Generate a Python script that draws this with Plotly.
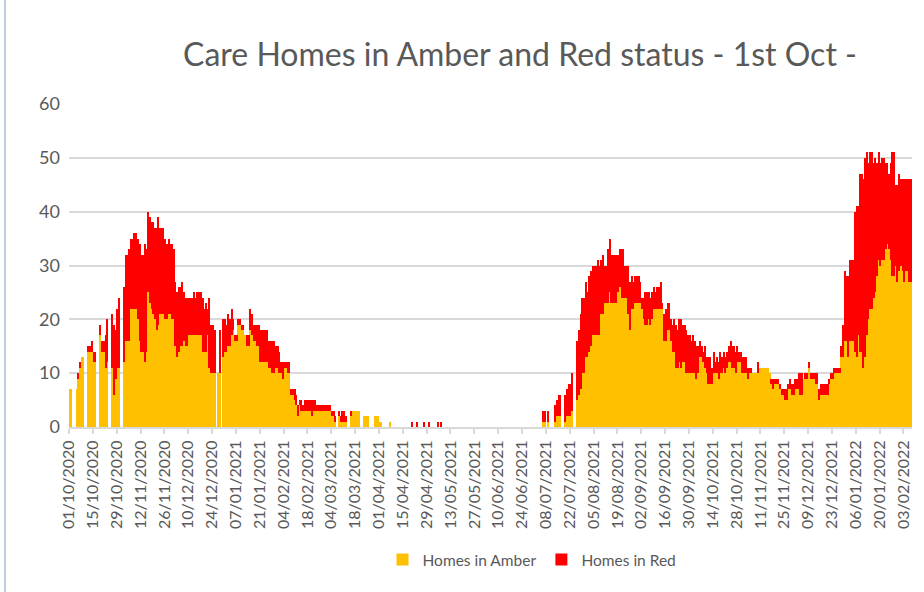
import pandas as pd
import plotly.graph_objects as go

start_date = "2020-10-01"

# Daily values, 01/10/2020 onward (0 = no bar that day)
amber = [
    7, 7, 0, 0, 7, 9, 11, 13, 13, 0,
    0, 14, 14, 14, 12, 12, 0, 0, 17, 14,
    14, 11, 12, 0, 0, 11, 6, 9, 11, 11,
    0, 0, 12, 16, 16, 16, 22, 22, 22, 22,
    20, 16, 14, 14, 12, 14, 25, 23, 22, 21,
    20, 18, 19, 21, 21, 21, 20, 20, 21, 21,
    20, 20, 15, 13, 14, 15, 15, 16, 15, 15,
    17, 17, 17, 17, 17, 17, 17, 17, 14, 14,
    14, 17, 11, 10, 10, 10, 0, 10, 10, 0,
    13, 14, 14, 15, 15, 17, 18, 16, 16, 19,
    19, 18, 18, 17, 15, 15, 18, 17, 16, 16,
    15, 15, 12, 12, 12, 12, 12, 11, 11, 10,
    10, 11, 11, 10, 10, 9, 11, 11, 10, 10,
    6, 6, 5, 4, 2, 4, 3, 3, 3, 3,
    3, 3, 2, 3, 3, 3, 3, 3, 3, 3,
    3, 3, 3, 3, 2, 2, 1, 0, 2, 1,
    1, 1, 1, 0, 0, 2, 3, 3, 3, 3,
    3, 0, 0, 2, 2, 2, 0, 0, 0, 2,
    2, 2, 1, 1, 0, 0, 0, 0, 1, 0,
    0, 0, 0, 0, 0, 0, 0, 0, 0, 0,
    0, 0, 0, 0, 0, 0, 0, 0, 0, 0,
    0, 0, 0, 0, 0, 0, 0, 0, 0, 0,
    0, 0, 0, 0, 0, 0, 0, 0, 0, 0,
    0, 0, 0, 0, 0, 0, 0, 0, 0, 0,
    0, 0, 0, 0, 0, 0, 0, 0, 0, 0,
    0, 0, 0, 0, 0, 0, 0, 0, 0, 0,
    0, 0, 0, 0, 0, 0, 0, 0, 0, 0,
    0, 0, 0, 0, 0, 0, 0, 0, 1, 1,
    0, 1, 0, 0, 0, 1, 2, 2, 2, 0,
    0, 1, 2, 2, 2, 3, 0, 0, 5, 6,
    7, 10, 10, 13, 13, 14, 15, 17, 17, 17,
    17, 17, 21, 21, 23, 23, 23, 25, 23, 23,
    23, 23, 25, 26, 24, 24, 24, 24, 21, 18,
    22, 22, 23, 23, 23, 23, 22, 20, 19, 19,
    20, 19, 20, 22, 22, 22, 22, 22, 22, 16,
    16, 18, 18, 16, 14, 14, 11, 11, 12, 11,
    12, 12, 10, 10, 10, 10, 10, 10, 9, 10,
    13, 13, 12, 11, 10, 8, 8, 8, 10, 10,
    10, 9, 10, 10, 11, 10, 11, 12, 12, 11,
    11, 10, 12, 12, 12, 10, 10, 10, 9, 10,
    10, 10, 10, 10, 10, 11, 11, 11, 11, 11,
    11, 10, 8, 7, 8, 8, 8, 7, 6, 6,
    5, 5, 7, 7, 6, 6, 7, 7, 7, 6,
    6, 9, 9, 9, 11, 9, 9, 9, 8, 8,
    5, 6, 6, 6, 6, 6, 8, 9, 9, 10,
    10, 10, 10, 13, 13, 16, 16, 13, 16, 16,
    16, 14, 13, 17, 14, 14, 11, 13, 17, 20,
    22, 22, 24, 25, 28, 31, 30, 31, 31, 33,
    34, 33, 31, 28, 28, 30, 27, 29, 30, 29,
    27, 29, 29, 27, 27,
]

red = [
    0, 0, 0, 0, 0, 1, 1, 0, 0, 0,
    0, 1, 1, 2, 2, 2, 0, 0, 2, 2,
    2, 6, 8, 0, 0, 10, 13, 9, 11, 13,
    0, 0, 14, 16, 16, 17, 13, 13, 14, 14,
    15, 18, 18, 18, 22, 19, 15, 16, 16, 17,
    17, 19, 20, 16, 16, 16, 15, 14, 14, 13,
    14, 13, 12, 12, 12, 11, 12, 9, 9, 9,
    7, 7, 7, 8, 7, 8, 8, 8, 10, 8,
    9, 5, 13, 9, 9, 8, 0, 0, 8, 0,
    7, 6, 5, 6, 5, 5, 2, 1, 1, 1,
    1, 1, 1, 0, 2, 2, 4, 4, 3, 3,
    4, 4, 6, 6, 6, 6, 6, 5, 5, 6,
    6, 4, 4, 4, 2, 3, 1, 1, 2, 2,
    1, 1, 2, 2, 2, 1, 2, 1, 2, 2,
    2, 2, 3, 2, 2, 1, 1, 1, 1, 1,
    1, 1, 1, 1, 1, 1, 1, 0, 1, 1,
    2, 2, 1, 0, 0, 1, 0, 0, 0, 0,
    0, 0, 0, 0, 0, 0, 0, 0, 0, 0,
    0, 0, 0, 0, 0, 0, 0, 0, 0, 0,
    0, 0, 0, 0, 0, 0, 0, 0, 0, 0,
    0, 1, 0, 0, 1, 0, 0, 0, 1, 0,
    0, 1, 0, 0, 0, 0, 1, 0, 1, 0,
    0, 0, 0, 0, 0, 0, 0, 0, 0, 0,
    0, 0, 0, 0, 0, 0, 0, 0, 0, 0,
    0, 0, 0, 0, 0, 0, 0, 0, 0, 0,
    0, 0, 0, 0, 0, 0, 0, 0, 0, 0,
    0, 0, 0, 0, 0, 0, 0, 0, 0, 0,
    0, 0, 0, 0, 0, 0, 0, 0, 2, 2,
    0, 2, 0, 0, 0, 3, 3, 4, 4, 0,
    0, 5, 5, 6, 6, 7, 0, 0, 11, 12,
    14, 14, 14, 14, 12, 14, 14, 13, 13, 13,
    14, 13, 10, 11, 7, 7, 10, 10, 9, 9,
    9, 9, 7, 7, 9, 9, 6, 6, 9, 9,
    6, 5, 5, 5, 5, 4, 2, 4, 6, 6,
    5, 5, 5, 4, 3, 4, 4, 5, 1, 5,
    6, 5, 5, 4, 5, 6, 8, 7, 8, 9,
    7, 7, 8, 7, 7, 6, 7, 6, 6, 5,
    3, 2, 2, 4, 3, 5, 5, 3, 4, 2,
    3, 3, 4, 3, 3, 3, 3, 3, 4, 4,
    4, 4, 3, 2, 2, 3, 3, 3, 2, 1,
    1, 0, 0, 0, 2, 0, 0, 0, 0, 0,
    0, 0, 1, 2, 1, 1, 1, 1, 1, 1,
    2, 2, 1, 2, 2, 2, 2, 2, 3, 4,
    4, 0, 1, 1, 1, 1, 1, 1, 2, 2,
    2, 2, 2, 2, 2, 2, 1, 1, 1, 1,
    1, 1, 1, 2, 6, 13, 12, 15, 15, 15,
    15, 26, 28, 24, 33, 33, 35, 37, 34, 29,
    29, 29, 25, 25, 21, 20, 19, 19, 19, 16,
    15, 14, 18, 23, 23, 15, 18, 18, 16, 17,
    19, 17, 17, 19, 19,
]

dates = pd.date_range(start_date, periods=len(amber), freq="D")

tick_dates = pd.date_range(start_date, "2022-02-03", freq="14D")
tick_labels = [d.strftime("%d/%m/%Y") for d in tick_dates]

title_text = "Care Homes in Amber and Red status - 1st Oct -"
y_ticks = [0, 10, 20, 30, 40, 50, 60]

GREY = "#595959"
FONT = "Lato"

W, H = 924, 592
L, R, T, B = 69, 12, 104, 165
PW, PH = W - L - R, H - T - B

fig = go.Figure()
fig.add_trace(go.Bar(
    x=dates, y=amber, name="Homes in Amber",
    marker=dict(color="#FFC000", line=dict(width=0)),
    xperiod=86400000, xperiodalignment="middle",
))
fig.add_trace(go.Bar(
    x=dates, y=red, name="Homes in Red",
    marker=dict(color="#FF0000", line=dict(width=0)),
    xperiod=86400000, xperiodalignment="middle",
))

fig.update_layout(
    width=W, height=H,
    barmode="stack", bargap=0.3,
    paper_bgcolor="white", plot_bgcolor="white",
    margin=dict(l=L, r=R, t=T, b=B, autoexpand=False),
    font=dict(family=FONT, color=GREY),
    title=dict(text=title_text, x=520 / W, xanchor="center",
               y=1 - 55 / H, yanchor="middle",
               font=dict(size=32, color=GREY, family=FONT)),
    showlegend=True,
    legend=dict(orientation="h", x=(532 - L) / PW, xanchor="center",
                y=-(560 - (T + PH)) / PH, yanchor="middle",
                font=dict(size=15.5, color=GREY), traceorder="normal",
                itemwidth=30),
    xaxis=dict(
        type="date",
        range=["2020-10-01", "2022-02-08"],
        tickmode="array", tickvals=tick_dates, ticktext=tick_labels,
        tickangle=-90, tickfont=dict(size=16, color=GREY),
        showgrid=False, showline=True, linecolor="#D9D9D9", linewidth=2,
        ticks="outside", ticklen=5, tickcolor="#D9D9D9", tickwidth=1.5,
    ),
    yaxis=dict(
        range=[0, 60], tickvals=y_ticks,
        tickfont=dict(size=18, color=GREY),
        showgrid=True, gridcolor="#D9D9D9", gridwidth=2,
        zeroline=False, showline=False, ticks="", ticklabelstandoff=8,
    ),
    shapes=[dict(type="line", xref="paper", yref="paper",
                 x0=(5 - L) / PW, x1=(5 - L) / PW,
                 y0=-B / PH, y1=1 + T / PH,
                 line=dict(color="#A9BFDA", width=1.5))],
)

fig.write_html("out.html", config={"displayModeBar": False},
               post_script="document.body.style.margin='0';")
